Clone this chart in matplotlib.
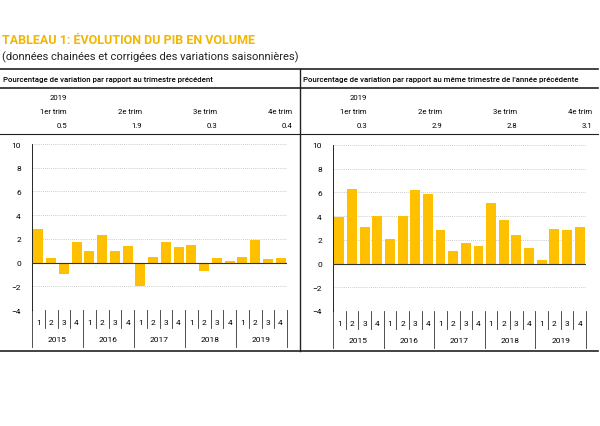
import matplotlib
matplotlib.use("Agg")
import matplotlib.pyplot as plt
import matplotlib.transforms as mt

years = ["2015", "2016", "2017", "2018", "2019"]
quarters = ["1", "2", "3", "4"]
qoq = [2.8, 0.4, -1.0, 1.7, 1.0, 2.3, 1.0, 1.4, -2.0, 0.5, 1.7, 1.3,
       1.5, -0.7, 0.4, 0.1, 0.5, 1.9, 0.3, 0.4]
yoy = [3.9, 6.3, 3.1, 4.0, 2.1, 4.0, 6.2, 5.9, 2.8, 1.1, 1.7, 1.5,
       5.1, 3.7, 2.4, 1.3, 0.3, 2.9, 2.8, 3.1]
trim_labels = ["1er trim", "2e trim", "3e trim", "4e trim"]
qoq_2019 = ["0.5", "1.9", "0.3", "0.4"]
yoy_2019 = ["0.3", "2.9", "2.8", "3.1"]
headers = ["Pourcentage de variation par rapport au trimestre précédent",
           "Pourcentage de variation par rapport au même trimestre de l'année précédente"]

W, H = 600, 427
fig = plt.figure(figsize=(6, 4.27), dpi=100)
plt.rcParams['font.family'] = ['Roboto', 'DejaVu Sans']
def px(x, y):
    return x / W, 1 - y / H

fig.text(*px(2, 41), "TABLEAU 1: ÉVOLUTION DU PIB EN VOLUME", color="#F2B705",
         fontsize=9, fontweight="bold", va="center")
fig.text(*px(2, 57), "(données chainées et corrigées des variations saisonnières)",
         fontsize=8, va="center", color="#222")

def hline(y, x0, x1, lw=1.2):
    fig.add_artist(plt.Line2D([x0 / W, x1 / W], [1 - y / H, 1 - y / H], color="#222", lw=lw))
hline(70, 0, 598)
hline(89, 0, 598)
hline(135, 0, 598, 0.8)
hline(352, 0, 598)
fig.add_artist(plt.Line2D([300 / W, 300 / W], [1 - 70 / H, 1 - 352 / H], color="#222", lw=1))

for k, (x0, vals) in enumerate([(2, qoq_2019), (302, yoy_2019)]):
    fig.text(*px(x0 + 1, 80), headers[k], fontsize=5.6, va="center", fontweight="medium")
    fig.text(*px(x0 + 65, 98), "2019", fontsize=5.6, va="center", ha="right")
    for i in range(4):
        xr = x0 + 65 + i * 75
        fig.text(*px(xr, 112), trim_labels[i], fontsize=5.6, va="center", ha="right")
        fig.text(*px(xr, 126), vals[i], fontsize=5.6, va="center", ha="right")

def panel(rect, data):
    ax = fig.add_axes(rect)
    x = list(range(len(data)))
    ax.bar(x, data, width=0.78, color="#FFC000", zorder=3)
    ax.set_ylim(-4, 10)
    ax.set_xlim(-0.5, len(data) - 0.5)
    ax.set_yticks(range(-4, 11, 2))
    ax.tick_params(axis="y", labelsize=6, length=0, pad=8)
    ax.grid(axis="y", ls=(0, (1, 1.5)), color="#bbb", lw=0.6)
    for s in ["top", "right", "bottom"]:
        ax.spines[s].set_visible(False)
    ax.spines["left"].set_linewidth(0.6)
    ax.set_xticks([])
    tr = mt.blended_transform_factory(ax.transData, ax.transAxes)
    for i in range(len(data)):
        ax.text(i, -0.07, quarters[i % 4], transform=tr, ha="center", va="center", fontsize=6)
        xe = i + 0.5
        long = (i % 4 == 3)
        ax.plot([xe, xe], [0, -0.22 if long else -0.11], transform=tr, color="#333",
                lw=0.6, clip_on=False)
    ax.plot([-0.5, -0.5], [0, -0.22], transform=tr, color="#333", lw=0.6, clip_on=False)
    for j, y in enumerate(years):
        ax.text(4 * j + 1.5, -0.175, y, transform=tr, ha="center", va="center", fontsize=6)
    ax.plot([-0.5, len(data) - 0.5], [0, 0], color="#333", lw=0.8, zorder=4)
    return ax

panel([32 / W, 1 - 311 / H, 255 / W, 166 / H], qoq)
panel([333 / W, 1 - 312 / H, 253 / W, 166 / H], yoy)

fig.savefig("out.png", dpi=100, facecolor="white")
